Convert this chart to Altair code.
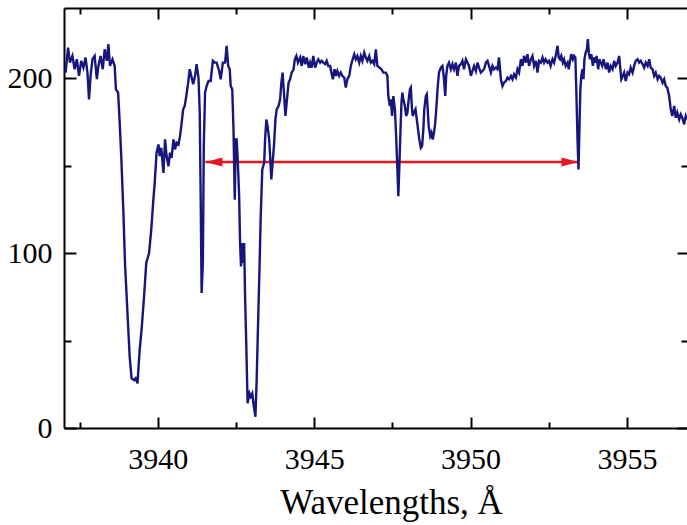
import altair as alt
import pandas as pd

# ---- data ----
wavelength = [
    3937.05, 3937.13, 3937.19, 3937.27, 3937.34, 3937.41, 3937.48, 3937.55, 3937.62, 3937.69,
    3937.75, 3937.80, 3937.85, 3937.91, 3937.98, 3938.05, 3938.10, 3938.17, 3938.24, 3938.30,
    3938.37, 3938.42, 3938.47, 3938.55, 3938.62, 3938.66, 3938.73, 3938.77, 3938.83, 3938.90,
    3938.95, 3939.03, 3939.10, 3939.16, 3939.24, 3939.29, 3939.35, 3939.42, 3939.48, 3939.56,
    3939.63, 3939.72, 3939.79, 3939.85, 3939.90, 3939.96, 3940.02, 3940.06, 3940.11, 3940.18,
    3940.23, 3940.28, 3940.34, 3940.39, 3940.44, 3940.50, 3940.55, 3940.60, 3940.66, 3940.71,
    3940.75, 3940.81, 3940.86, 3940.91, 3940.97, 3941.02, 3941.07, 3941.13, 3941.19, 3941.24,
    3941.30, 3941.34, 3941.37, 3941.40, 3941.44, 3941.47, 3941.51, 3941.56, 3941.62, 3941.69,
    3941.76, 3941.82, 3941.88, 3941.96, 3942.01, 3942.08,
    3942.15, 3942.20, 3942.25, 3942.30, 3942.33, 3942.38, 3942.42, 3942.46, 3942.49, 3942.52,
    3942.55, 3942.60, 3942.63, 3942.66, 3942.69, 3942.73, 3942.76, 3942.79, 3942.83, 3942.87,
    3942.93, 3942.97, 3943.02, 3943.07, 3943.12, 3943.16, 3943.20, 3943.25, 3943.29, 3943.34,
    3943.40, 3943.43, 3943.47, 3943.51, 3943.56, 3943.59, 3943.63, 3943.67, 3943.72, 3943.76,
    3943.80, 3943.86, 3943.91, 3943.95, 3943.99, 3944.04, 3944.08, 3944.12, 3944.18, 3944.23,
    3944.28, 3944.34, 3944.38, 3944.43, 3944.48, 3944.55, 3944.60, 3944.65, 3944.71, 3944.76,
    3944.83, 3944.87, 3944.92, 3944.97, 3945.03, 3945.08, 3945.13, 3945.19, 3945.24, 3945.29,
    3945.35, 3945.40, 3945.45, 3945.51, 3945.56, 3945.60, 3945.65, 3945.70, 3945.74, 3945.80,
    3945.85, 3945.90, 3945.96, 3946.01, 3946.06, 3946.12, 3946.17, 3946.23, 3946.28, 3946.33,
    3946.38, 3946.44, 3946.49, 3946.54, 3946.60, 3946.65, 3946.70, 3946.76, 3946.81, 3946.86,
    3946.92, 3946.97, 3947.02, 3947.09, 3947.15, 3947.21,
    3947.29, 3947.34, 3947.37, 3947.42, 3947.45, 3947.49, 3947.53, 3947.58, 3947.62, 3947.66,
    3947.69, 3947.72, 3947.76, 3947.79, 3947.82, 3947.85, 3947.90, 3947.94, 3947.98, 3948.01,
    3948.06, 3948.09, 3948.12, 3948.15, 3948.19, 3948.24, 3948.28, 3948.32, 3948.36, 3948.41,
    3948.45, 3948.49, 3948.52, 3948.57, 3948.60, 3948.63, 3948.66, 3948.71, 3948.75, 3948.79,
    3948.83, 3948.87, 3948.91, 3948.95, 3948.99, 3949.05, 3949.10, 3949.14, 3949.19, 3949.22,
    3949.26, 3949.31, 3949.37, 3949.42, 3949.47, 3949.53, 3949.58, 3949.63, 3949.69, 3949.74,
    3949.79, 3949.85, 3949.90, 3949.95, 3950.01, 3950.06, 3950.11, 3950.17, 3950.22, 3950.27,
    3950.33, 3950.38, 3950.43, 3950.49, 3950.54, 3950.59, 3950.65, 3950.70, 3950.75, 3950.81,
    3950.86, 3950.91, 3950.97, 3951.02, 3951.07, 3951.13, 3951.18, 3951.23, 3951.29, 3951.34,
    3951.39, 3951.45, 3951.50, 3951.55, 3951.61, 3951.66, 3951.71, 3951.77, 3951.82, 3951.87,
    3951.93, 3951.98, 3952.03, 3952.09, 3952.14, 3952.19, 3952.25, 3952.30, 3952.35,
    3952.40, 3952.46, 3952.51, 3952.56, 3952.62, 3952.67, 3952.72, 3952.78, 3952.82, 3952.86,
    3952.90, 3952.95, 3952.99, 3953.04, 3953.10, 3953.14, 3953.18, 3953.22, 3953.27, 3953.31,
    3953.35, 3953.38, 3953.42, 3953.45, 3953.48, 3953.51, 3953.54, 3953.58, 3953.61, 3953.64,
    3953.68, 3953.72, 3953.75, 3953.78, 3953.82, 3953.86, 3953.91, 3953.95, 3953.99, 3954.03,
    3954.08, 3954.12, 3954.16, 3954.21, 3954.25, 3954.29, 3954.33, 3954.38, 3954.43, 3954.48,
    3954.54, 3954.59, 3954.64, 3954.70, 3954.75, 3954.78, 3954.82, 3954.87, 3954.91, 3954.96,
    3955.02, 3955.07, 3955.12, 3955.18, 3955.23, 3955.28, 3955.34, 3955.39, 3955.44, 3955.50,
    3955.55, 3955.60, 3955.66, 3955.71, 3955.76, 3955.82, 3955.87, 3955.92, 3955.98, 3956.03,
    3956.08, 3956.14, 3956.19, 3956.24, 3956.29, 3956.35, 3956.40, 3956.45, 3956.51, 3956.56,
    3956.61, 3956.67, 3956.72, 3956.77, 3956.83, 3956.88, 3956.92,
]
intensity = [
    203.1, 217.4, 208.8, 212.6, 205.0, 210.7, 201.2, 209.8, 205.9, 211.7,
    203.1, 187.8, 201.2, 210.7, 212.6, 199.3, 206.9, 212.6, 205.0, 216.4,
    209.8, 219.3, 206.9, 210.7, 206.9, 193.5, 191.6, 178.3, 155.4, 122.9,
    94.3, 65.6, 40.8, 28.4, 27.4, 28.4, 25.5, 44.6, 56.1, 75.2,
    94.3, 100.0, 113.4, 128.6, 140.1, 157.3, 162.0, 155.4, 160.1, 145.8,
    164.9, 155.4, 149.6, 157.3, 154.4, 164.9, 159.2, 163.0, 162.0, 166.8,
    172.5, 182.1, 184.0, 189.7, 197.3, 205.0, 201.2, 196.4, 201.2, 207.9,
    200.2, 180.2, 132.4, 77.1, 94.3, 161.1, 191.6, 195.4, 198.3, 198.3,
    209.8, 208.8, 208.8, 204.0, 199.3, 208.8,
    208.8, 218.4, 206.9, 205.0, 195.4, 193.5, 170.6, 130.5, 164.9, 164.9,
    155.4, 132.4, 105.7, 92.3, 105.7, 94.3, 105.7, 75.2, 46.5, 14.1,
    19.8, 17.9, 19.8, 12.2, 6.4, 27.4, 56.1, 90.4, 121.0, 147.7,
    151.5, 164.9, 176.3, 172.5, 164.9, 155.4, 142.0, 151.5, 163.0, 176.3,
    182.1, 184.0, 187.8, 197.3, 203.1, 189.7, 178.3, 185.9, 197.3, 199.3,
    203.1, 205.0, 210.7, 212.6, 208.8, 211.7, 206.9, 212.6, 207.9, 211.7,
    205.9, 208.8, 205.9, 212.6, 205.9, 208.8, 210.7, 208.8, 209.8, 208.8,
    207.9, 209.8, 206.9, 206.9, 202.1, 199.3, 205.0, 201.2, 204.0, 201.2,
    203.1, 201.2, 200.2, 194.5, 199.3, 201.2, 206.9, 210.7, 213.6, 210.7,
    212.6, 208.8, 212.6, 209.8, 214.5, 211.7, 209.8, 212.6, 208.8, 209.8,
    207.9, 216.4, 206.9, 205.9, 205.0, 203.1,
    203.1, 201.2, 189.7, 184.0, 187.8, 178.3, 189.7, 182.1, 166.8, 147.7,
    132.4, 147.7, 170.6, 185.9, 191.6, 187.8, 184.0, 178.3, 180.2, 185.9,
    193.5, 194.5, 184.0, 178.3, 180.2, 182.1, 176.3, 170.6, 164.9, 160.1,
    161.1, 170.6, 182.1, 189.7, 190.7, 182.1, 172.5, 166.8, 168.7, 164.9,
    168.7, 174.4, 184.0, 195.4, 203.1, 205.9, 206.9, 201.2, 189.7, 201.2,
    206.9, 208.8, 205.0, 207.9, 205.0, 208.8, 201.2, 206.9, 207.9, 209.8,
    205.0, 210.7, 208.8, 206.9, 201.2, 204.0, 206.9, 204.0, 208.8, 205.9,
    203.1, 204.0, 205.0, 208.8, 209.8, 206.9, 203.1, 206.9, 205.0, 205.9,
    205.0, 211.7, 199.3, 195.4, 197.3, 198.3, 200.2, 199.3, 201.2, 199.3,
    202.1, 200.2, 205.0, 203.1, 210.7, 206.9, 212.6, 208.8, 213.6, 206.9,
    210.7, 212.6, 206.9, 209.8, 203.1, 209.8, 208.8, 211.7, 208.8,
    210.7, 208.8, 209.8, 206.9, 210.7, 208.8, 212.6, 218.4, 211.7, 210.7,
    212.6, 208.8, 210.7, 206.9, 208.8, 205.0, 209.8, 213.6, 210.7, 212.6,
    211.7, 193.5, 164.9, 147.7, 170.6, 193.5, 201.2, 205.0, 199.3, 210.7,
    214.5, 216.4, 222.2, 214.5, 210.7, 213.6, 206.9, 211.7, 208.8, 212.6,
    205.0, 210.7, 208.8, 206.9, 210.7, 207.9, 205.0, 208.8, 203.1, 206.9,
    205.0, 209.8, 206.9, 208.8, 212.6, 206.9, 199.3, 201.2, 203.1, 198.3,
    203.1, 202.1, 205.9, 203.1, 206.9, 209.8, 210.7, 208.8, 209.8, 207.9,
    205.9, 208.8, 206.9, 210.7, 205.9, 205.0, 201.2, 203.1, 199.3, 201.2,
    200.2, 197.3, 199.3, 195.4, 194.5, 189.7, 182.1, 178.3, 184.0, 177.3,
    180.2, 176.3, 179.2, 177.3, 173.5, 178.3, 176.3,
]
arrow_start = [3941.52]
arrow_end = [3953.45]
arrow_level = [152]
x_major = [3940, 3945, 3950, 3955]
x_minor = [3937.5, 3942.5, 3947.5, 3952.5]
y_major = [0, 100, 200]
y_minor = [50, 150]

W, H = 623, 420
FONT = "Liberation Serif"
NAVY = "#16167e"
RED = "#e8161e"

xs = alt.Scale(domain=[3937, 3956.92], nice=False, zero=False)
ys = alt.Scale(domain=[0, 240], nice=False, zero=False)

spec_df = pd.DataFrame({"wl": wavelength, "flux": intensity})
arrow_df = pd.DataFrame({"x": arrow_start, "x2": arrow_end, "y": arrow_level})


def tick_axis(orient, values, size, offset, domain=False):
    return alt.Axis(orient=orient, values=values, tickSize=size, ticks=True,
                    labels=False, domain=domain, domainColor="black", domainWidth=2,
                    title=None, grid=False, tickColor="black", tickWidth=2,
                    offset=offset)


# main layer: spectrum + labelled axes (no ticks), frame bottom/left via domain
spectrum = alt.Chart(spec_df).mark_line(color=NAVY, strokeWidth=2.4, clip=True).encode(
    x=alt.X("wl:Q", scale=xs, axis=alt.Axis(
        orient="bottom", values=x_major, format="d", ticks=False, tickSize=0,
        domain=True, domainColor="black", domainWidth=2, grid=False,
        labelFont=FONT, labelFontSize=30, labelColor="black", labelPadding=16,
        labelFlush=False,
        title="Wavelengths, Å", titleFont=FONT, titleFontSize=35,
        titleFontWeight="normal", titleColor="black", titleX=327, titleY=85,
        titleBaseline="alphabetic", titleAlign="center")),
    y=alt.Y("flux:Q", scale=ys, axis=alt.Axis(
        orient="left", values=y_major, format="d", ticks=False, tickSize=0,
        domain=True, domainColor="black", domainWidth=2, grid=False,
        labelFont=FONT, labelFontSize=30, labelColor="black", labelPadding=12,
        labelFlush=False, title=None)),
    order="wl:Q",
)

arrow_line = alt.Chart(arrow_df).mark_rule(color=RED, strokeWidth=2.5).encode(
    x=alt.X("x:Q", scale=xs, axis=None), x2="x2:Q",
    y=alt.Y("y:Q", scale=ys, axis=None))
head_left = alt.Chart(arrow_df).mark_point(
    filled=True, opacity=1, color=RED, size=1156,
    shape="M0,0L1,-0.27L1,0.27Z").encode(
    x=alt.X("x:Q", scale=xs, axis=None), y=alt.Y("y:Q", scale=ys, axis=None))
head_right = alt.Chart(arrow_df).mark_point(
    filled=True, opacity=1, color=RED, size=1156,
    shape="M0,0L-1,-0.27L-1,0.27Z").encode(
    x=alt.X("x2:Q", scale=xs, axis=None), y=alt.Y("y:Q", scale=ys, axis=None))

# inward ticks (axes moved onto the opposite edge with negative offsets)
t_bottom_major = alt.Chart(arrow_df).mark_point(opacity=0).encode(
    x=alt.X("x:Q", scale=xs, axis=tick_axis("top", x_major, 11, -H)),
    y=alt.Y("y:Q", scale=ys, axis=tick_axis("right", y_major, 12, -W)))
t_bottom_minor = alt.Chart(arrow_df).mark_point(opacity=0).encode(
    x=alt.X("x:Q", scale=xs, axis=tick_axis("top", x_minor, 6, -H)),
    y=alt.Y("y:Q", scale=ys, axis=tick_axis("right", y_minor, 7, -W)))
t_top_major = alt.Chart(arrow_df).mark_point(opacity=0).encode(
    x=alt.X("x:Q", scale=xs, axis=tick_axis("bottom", x_major, 11, -H, domain=True)),
    y=alt.Y("y:Q", scale=ys, axis=tick_axis("left", y_major, 10, -W)))
t_top_minor = alt.Chart(arrow_df).mark_point(opacity=0).encode(
    x=alt.X("x:Q", scale=xs, axis=tick_axis("bottom", x_minor, 6, -H)),
    y=alt.Y("y:Q", scale=ys, axis=tick_axis("left", y_minor, 6, -W)))

chart = alt.layer(
    t_bottom_major, t_bottom_minor, t_top_major, t_top_minor,
    arrow_line, head_left, head_right, spectrum,
).resolve_axis(x="independent", y="independent").properties(
    width=W, height=H,
    autosize=alt.AutoSizeParams(type="none"),
    padding={"left": 64, "top": 8, "right": 0, "bottom": 97},
    background="white",
).configure_view(strokeWidth=0)

chart.save("out.html", embed_options={"renderer": "svg", "actions": False})
